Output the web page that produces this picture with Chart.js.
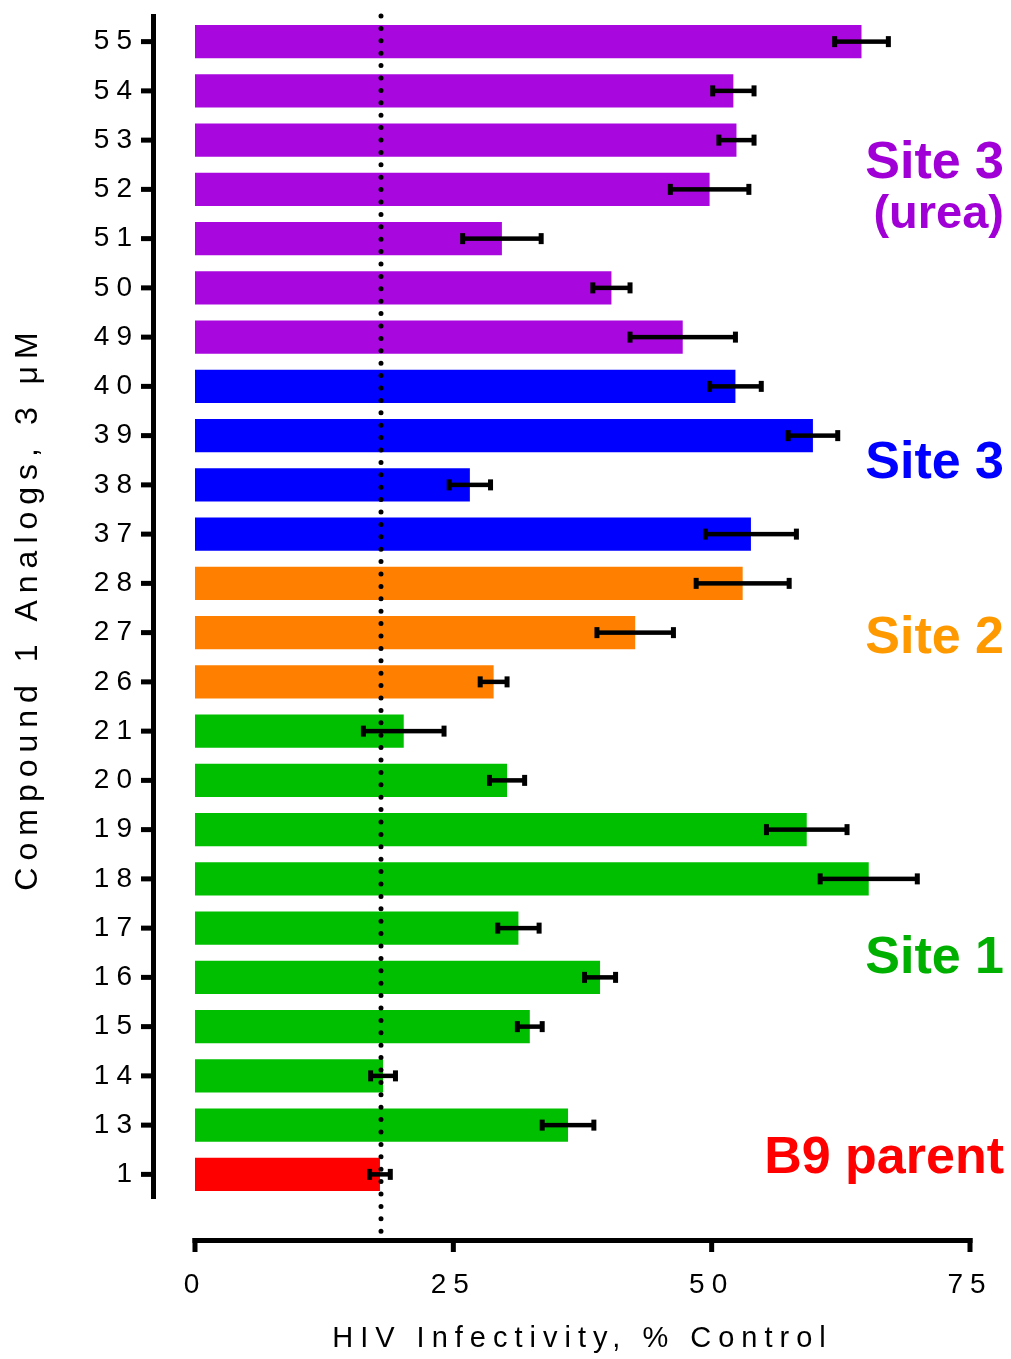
<!DOCTYPE html>
<html>
<head>
<meta charset="utf-8">
<script src="https://cdn.jsdelivr.net/npm/chart.js@4.4.1/dist/chart.umd.min.js"></script>
<style>
  html, body { margin: 0; padding: 0; background: #fff; }
</style>
</head>
<body>
<canvas id="hiv-chart" width="1011" height="1359"></canvas>
<script>
// compounds, top to bottom
var compounds = ["55", "54", "53", "52", "51", "50", "49", "40", "39", "38", "37", "28", "27", "26", "21", "20", "19", "18", "17", "16", "15", "14", "13", "1"];
var groups = ["urea", "urea", "urea", "urea", "urea", "urea", "urea", "site3", "site3", "site3", "site3", "site2", "site2", "site2", "site1", "site1", "site1", "site1", "site1", "site1", "site1", "site1", "site1", "parent"];
var infectivity = [64.5, 52.1, 52.4, 49.8, 29.7, 40.3, 47.2, 52.3, 59.8, 26.6, 53.8, 53.0, 42.6, 28.9, 20.2, 30.2, 59.2, 65.2, 31.3, 39.2, 32.4, 18.2, 36.1, 17.9];
var sem = [2.6, 2.0, 1.7, 3.8, 3.8, 1.8, 5.1, 2.5, 2.4, 2.0, 4.4, 4.5, 3.7, 1.3, 3.9, 1.7, 3.9, 4.7, 2.0, 1.5, 1.2, 1.2, 2.5, 1.0];
var xTicks = [0, 25, 50, 75];
var parentLevel = 18.0;

var groupColors = {
	urea: "#a808de",
	site3: "#0000ff",
	site2: "#ff8000",
	site1: "#00bf00",
	parent: "#ff0000"
};

Chart.defaults.font.family = "'Liberation Sans', Arial, sans-serif";
Chart.defaults.color = "#000";

// drop the extra space chart.js reserves around tick labels
function noScalePadding(scale) {
	scale.paddingTop = 0;
	scale.paddingBottom = 0;
	scale.paddingLeft = 0;
	scale.paddingRight = 0;
}

// error bars, parent line, axis lines and group labels
var overlay = {
	id: "overlay",
	beforeDraw: function(chart) {
		chart.ctx.letterSpacing = "7px";
	},
	afterDatasetsDraw: function(chart) {
		var ctx = chart.ctx;
		var x = chart.scales.x;
		var y = chart.scales.y;
		ctx.save();
		ctx.letterSpacing = "0px";

		// dotted line at parent level
		var px = x.getPixelForValue(parentLevel);
		ctx.strokeStyle = "#000";
		ctx.lineWidth = 5;
		ctx.lineCap = "round";
		ctx.setLineDash([0, 12.4]);
		ctx.beginPath();
		ctx.moveTo(px, 16);
		ctx.lineTo(px, 1233);
		ctx.stroke();
		ctx.setLineDash([]);

		ctx.fillStyle = "#000";
		compounds.forEach(function(c, i) {
			var cy = y.getPixelForValue(i);
			var x0 = x.getPixelForValue(infectivity[i] - sem[i]);
			var x1 = x.getPixelForValue(infectivity[i] + sem[i]);
			ctx.fillRect(x0, cy - 2.25, x1 - x0, 4.5);
			ctx.fillRect(x0 - 2.5, cy - 5.5, 5, 11);
			ctx.fillRect(x1 - 2.5, cy - 5.5, 5, 11);
			// y tick marks
			ctx.fillRect(141, cy - 2.5, 12, 5);
		});

		// y axis line
		ctx.fillRect(151, y.top - 3, 5, y.bottom - y.top + 3);

		// x axis line and ticks
		ctx.fillRect(x.left - 2.5, 1238, x.right - x.left + 5, 5);
		xTicks.forEach(function(v) {
			ctx.fillRect(x.getPixelForValue(v) - 2.5, 1238, 5, 14);
		});

		// group labels
		ctx.textAlign = "right";
		ctx.textBaseline = "alphabetic";
		var labels = [
			["Site 3", "#a000d6", 178],
			["(urea)", "#a000d6", 228],
			["Site 3", "#0000ff", 478],
			["Site 2", "#ff9900", 653],
			["Site 1", "#00b000", 973],
			["B9 parent", "#ff0000", 1173]
		];
		labels.forEach(function(l) {
			ctx.font = l[0] === "(urea)" ? "bold 47px 'Liberation Sans', Arial, sans-serif" : "bold 52px 'Liberation Sans', Arial, sans-serif";
			ctx.fillStyle = l[1];
			ctx.fillText(l[0], 1004, l[2]);
		});
		ctx.restore();
	}
};

var ctx = document.getElementById("hiv-chart");
new Chart(ctx, {
	type: "bar",
	data: {
		labels: compounds,
		datasets: [{
			label: "HIV Infectivity",
			data: infectivity,
			backgroundColor: groups.map(function(g) { return groupColors[g]; }),
			borderWidth: 0,
			barPercentage: 0.68,
			categoryPercentage: 1.0
		}]
	},
	plugins: [overlay],
	options: {
		indexAxis: "y",
		responsive: false,
		animation: false,
		devicePixelRatio: 1,
		layout: {
			padding: { left: 0, right: 41, top: 17, bottom: 0 }
		},
		plugins: {
			legend: { display: false },
			tooltip: { enabled: false }
		},
		scales: {
			x: {
				min: 0,
				max: 75,
				afterBuildTicks: function(scale) {
					scale.ticks = xTicks.map(function(v) { return { value: v }; });
				},
				afterFit: function(scale) {
					scale.height = 160;
					noScalePadding(scale);
				},
				grid: { display: false, drawTicks: false },
				border: { display: false },
				ticks: {
					autoSkip: false,
					maxRotation: 0,
					padding: 69,
					font: { size: 28 }
				},
				title: {
					display: true,
					text: "HIV Infectivity, % Control",
					font: { size: 29 },
					padding: { top: 3, bottom: 3 }
				}
			},
			y: {
				afterFit: function(scale) {
					scale.width = 195;
					noScalePadding(scale);
				},
				grid: { display: false, drawTicks: false },
				border: { display: false },
				ticks: {
					autoSkip: false,
					padding: 56,
					font: { size: 28 }
				},
				title: {
					display: true,
					text: "Compound 1 Analogs, 3 \u03bcM",
					font: { size: 32 },
					padding: { top: 9, bottom: 9 }
				}
			}
		}
	}
});
</script>
</body>
</html>
